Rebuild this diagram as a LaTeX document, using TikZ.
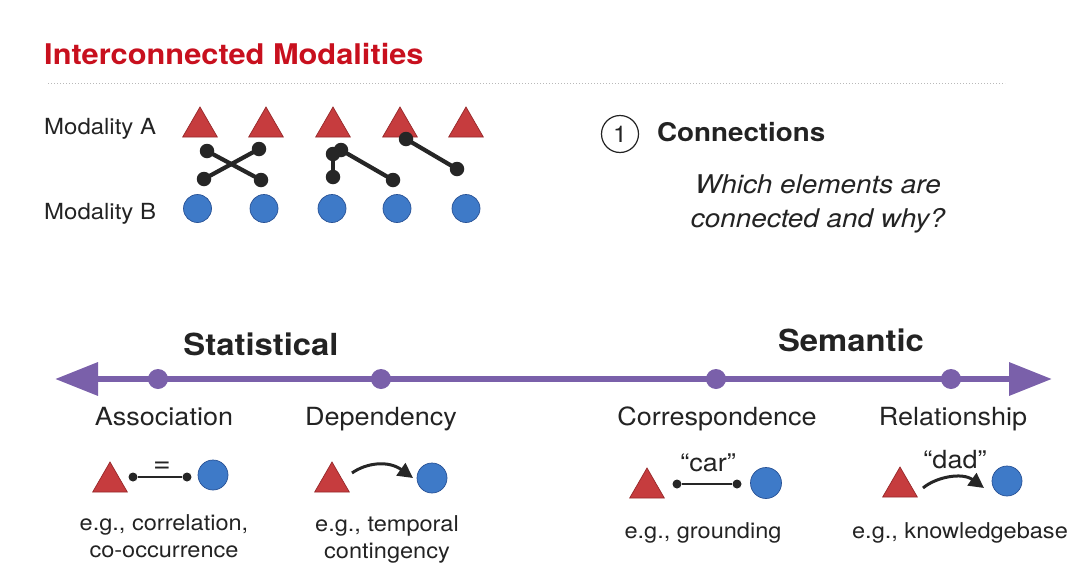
\documentclass[tikz,border=0pt]{standalone}
\usepackage{fontspec}
\setmainfont{TeX Gyre Heros}[FakeStretch=1.08]
\usetikzlibrary{shapes.geometric, arrows.meta}
\definecolor{titlered}{RGB}{200,16,30}
\definecolor{ink}{RGB}{35,35,35}
\definecolor{trifill}{RGB}{198,60,62}
\definecolor{triedge}{RGB}{150,40,42}
\definecolor{ballfill}{RGB}{62,122,200}
\definecolor{balledge}{RGB}{40,82,150}
\definecolor{axispurple}{RGB}{122,96,170}

\begin{document}
\begin{tikzpicture}[x=1pt, y=-1pt, >=stealth,
  tri/.style={regular polygon, regular polygon sides=3, minimum size=40pt, inner sep=0pt, fill=trifill, draw=triedge, line width=0.7pt},
  ball/.style={circle, minimum size=28pt, inner sep=0pt, fill=ballfill, draw=balledge, line width=0.7pt},
  jdot/.style={circle, fill=black!85, minimum size=14.5pt, inner sep=0pt},
  sdot/.style={circle, fill=black!85, minimum size=9pt, inner sep=0pt},
  link/.style={line width=4.2pt, black!85},
  slink/.style={line width=2.4pt, black!85},
  txt/.style={inner sep=0pt, text=ink, anchor=base},
  lab/.style={txt, font=\fontsize{25}{30}\selectfont},
  small/.style={txt, font=\fontsize{21.8}{26}\selectfont},
  head/.style={txt, font=\fontsize{30.4}{36}\selectfont\bfseries},
  tick/.style={circle, fill=axispurple, minimum size=20pt, inner sep=0pt}]
\useasboundingbox (0,0) rectangle (1080,568);
% title and rule
\node[txt, anchor=base west, text=titlered, font=\fontsize{28.5}{34}\selectfont\bfseries] (title) at (44,64) {Interconnected Modalities};
\draw[gray!55, line width=1pt, dash pattern=on 1pt off 2pt] (48,83) -- (1005,83);
% modality rows
\node[txt, anchor=base west, font=\fontsize{22.2}{27}\selectfont] (modA) at (44,134) {Modality A};
\node[txt, anchor=base west, font=\fontsize{22.2}{27}\selectfont] (modB) at (44,219) {Modality B};
\node[tri] (a1) at (200,127) {};
\node[tri] (a2) at (266,127) {};
\node[tri] (a3) at (333,127) {};
\node[tri] (a4) at (400,127) {};
\node[tri] (a5) at (466,127) {};
\node[ball] (b1) at (197.5,208.5) {};
\node[ball] (b2) at (264,208.5) {};
\node[ball] (b3) at (332,208.5) {};
\node[ball] (b4) at (397,208.5) {};
\node[ball] (b5) at (466,208.5) {};
% connections between elements
\node[jdot] (c1) at (207,151) {};
\node[jdot] (c2) at (261,180) {};
\node[jdot] (c3) at (259,149) {};
\node[jdot] (c4) at (204,179) {};
\node[jdot] (c5) at (333,154) {};
\node[jdot] (c6) at (333,177) {};
\node[jdot] (c7) at (341,150) {};
\node[jdot] (c8) at (393,180) {};
\node[jdot] (c9) at (406,139) {};
\node[jdot] (c10) at (457,169) {};
\draw[link] (c1.center) -- (c2.center);
\draw[link] (c3.center) -- (c4.center);
\draw[link] (c5.center) -- (c6.center);
\draw[link] (c7.center) -- (c8.center);
\draw[link] (c9.center) -- (c10.center);
% section heading
\node[circle, draw=ink, line width=1.2pt, minimum size=37pt, inner sep=0pt, font=\fontsize{23}{28}\selectfont, text=ink] (one) at (620,134) {1};
\node[txt, anchor=base west, font=\fontsize{25.7}{31}\selectfont\bfseries] (conn) at (657,141) {Connections};
\node[txt, font=\fontsize{25.8}{31}\selectfont\itshape] (q1) at (818,193) {Which elements are};
\node[txt, font=\fontsize{25.8}{31}\selectfont\itshape] (q2) at (818,227) {connected and why?};
% statistical <-> semantic axis
\node[head] (stat) at (261,355) {Statistical};
\node[head] (sem) at (851,351) {Semantic};
\coordinate (axL) at (55,379);
\coordinate (axR) at (1052,379);
\draw[axispurple, line width=6.5pt, {Triangle[length=43pt,width=32pt]}-{Triangle[length=43pt,width=32pt]}] (axL) -- (axR);
\node[tick] (tAsso) at (158,379) {};
\node[tick] (tDep) at (381,379) {};
\node[tick] (tCorr) at (716,379) {};
\node[tick] (tRel) at (951,379) {};
\node[lab] (lAsso) at (164,425) {Association};
\node[lab] (lDep) at (381,425) {Dependency};
\node[lab] (lCorr) at (717,425) {Correspondence};
\node[lab] (lRel) at (953,425) {Relationship};
% association icon
\node[tri] (asT) at (110,482) {};
\node[ball, minimum size=30pt] (asB) at (213,475) {};
\node[sdot] (asD1) at (133,477) {};
\node[sdot] (asD2) at (187,477) {};
\draw[slink] (asD1) -- (asD2);
\node[txt, font=\fontsize{28}{32}\selectfont] (eq) at (162,472) {=};
% dependency icon
\node[tri] (dpT) at (332,482) {};
\node[ball, minimum size=30pt] (dpB) at (432,478) {};
\coordinate (dpS) at (352,473);
\coordinate (dpE) at (413,478);
\draw[link, line width=3pt, -{Triangle[length=15pt,width=15pt]}] (dpS) .. controls (366,463) and (388,460) .. (dpE);
% correspondence icon
\node[tri] (crT) at (647,488) {};
\node[ball, minimum size=31pt] (crB) at (766,483) {};
\node[sdot] (crD1) at (677,484) {};
\node[sdot] (crD2) at (737,484) {};
\draw[slink] (crD1) -- (crD2);
\node[lab] (car) at (708,471) {``car''};
% relationship icon
\node[tri] (rlT) at (900,487) {};
\node[ball, minimum size=30pt] (rlB) at (1007,481) {};
\coordinate (rlS) at (923,488);
\coordinate (rlE) at (984,488);
\draw[link, line width=3pt, -{Triangle[length=15pt,width=15pt]}] (rlS) .. controls (936,477) and (962,472) .. (rlE);
\node[lab] (dad) at (955,468) {``dad''};
% examples
\node[small] (exA1) at (164,530) {e.g., correlation,};
\node[small] (exA2) at (164,557) {co-occurrence};
\node[small] (exD1) at (387,531) {e.g., temporal};
\node[small] (exD2) at (387,558) {contingency};
\node[small] (exC) at (703,538) {e.g., grounding};
\node[small] (exR) at (960,538) {e.g., knowledgebase};
\end{tikzpicture}
\end{document}
